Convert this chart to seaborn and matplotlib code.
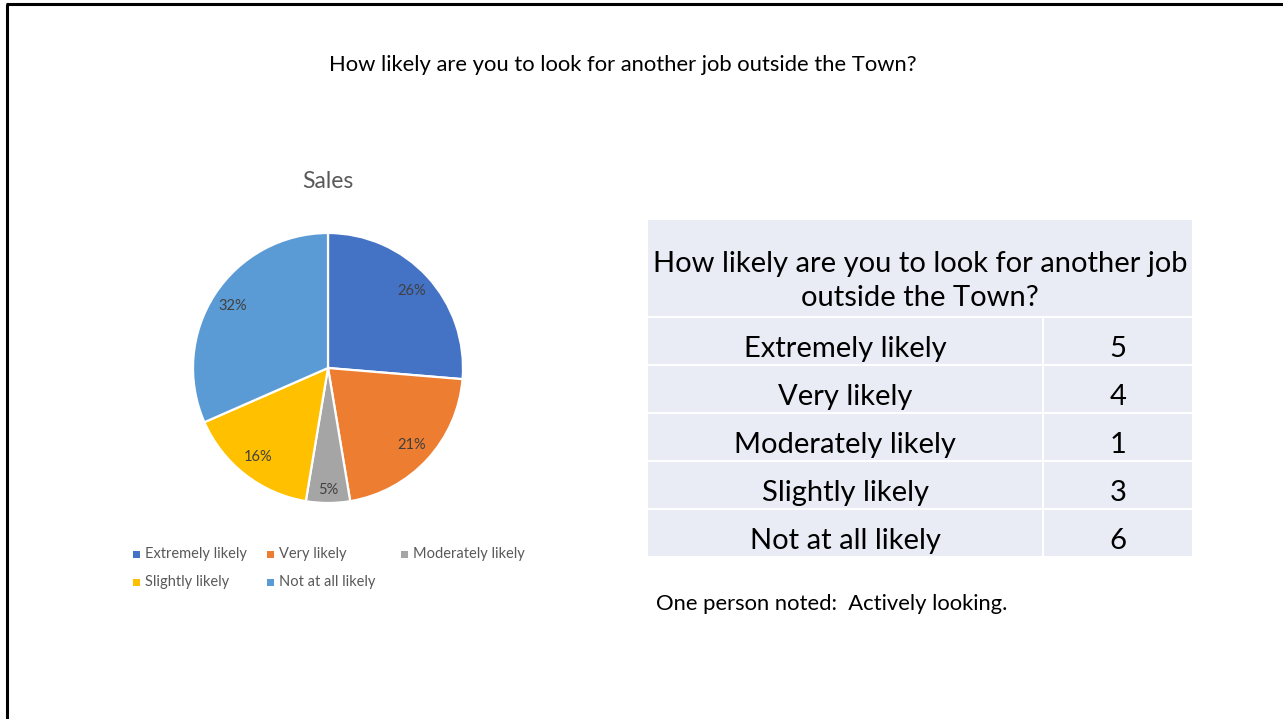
import matplotlib
matplotlib.use("Agg")
import matplotlib.pyplot as plt
from matplotlib.patches import Rectangle
from matplotlib.lines import Line2D
import seaborn as sns

# Survey responses
categories = ["Extremely likely", "Very likely", "Moderately likely",
              "Slightly likely", "Not at all likely"]
counts = [5, 4, 1, 3, 6]
colors = ["#4472C4", "#ED7D31", "#A5A5A5", "#FFC000", "#5B9BD5"]

page_title = "How likely are you to look for another job outside the Town?"
pie_title = "Sales"
table_header = "How likely are you to look for another job\noutside the Town?"
footnote = "One person noted:  Actively looking."

sns.set_theme(style="white")
plt.rcParams["font.family"] = ["Lato", "DejaVu Sans"]
palette = sns.color_palette(colors)

W, H = 1283, 719
fig = plt.figure(figsize=(W / 100, H / 100), dpi=100)
fig.patch.set_facecolor("white")


def fx(px):
    return px / W


def fy(py):
    return 1 - py / H


# Full-page overlay in pixel coordinates (text, table, frame)
page = fig.add_axes([0, 0, 1, 1])
page.set_xlim(0, W)
page.set_ylim(H, 0)
page.axis("off")

# Slide frame (left and top edges)
page.add_line(Line2D([7, 7], [4, H], color="black", lw=2.2, solid_capstyle="butt"))
page.add_line(Line2D([6, W], [4, 4], color="black", lw=2.2, solid_capstyle="butt"))

page.text(623, 65, page_title, ha="center", va="center", fontsize=15.8, color="black")

# Pie chart
cx, cy, r = 328, 368, 135
pad = 150
ax = fig.add_axes([fx(cx - pad), fy(cy + pad), fx(2 * pad), (2 * pad) / H])
wedges, texts, autotexts = ax.pie(
    counts, colors=palette, startangle=90, counterclock=False,
    autopct="%.0f%%", pctdistance=0.84,
    wedgeprops=dict(edgecolor="white", linewidth=1.6),
    textprops=dict(color="#404040", fontsize=10.5),
)
autotexts[2].set_position((0, -0.9))
lim = pad / r
ax.set_xlim(-lim, lim)
ax.set_ylim(-lim, lim)
ax.set_aspect("equal")
ax.axis("off")

page.text(cx, 182, pie_title, ha="center", va="center", fontsize=16.5, color="#595959")

# Legend laid out in a 3-column grid
for i, (name, col) in enumerate(zip(categories, palette)):
    c, row = i % 3, i // 3
    lx = 133 + c * 134
    ly = 554 + row * 28
    page.add_patch(Rectangle((lx, ly - 3.5), 7, 7, facecolor=col, edgecolor="none"))
    page.text(lx + 12, ly, name, ha="left", va="center", fontsize=10.5, color="#595959")

# Summary table
tbl_bg = "#E9EBF5"
x0, x1, xdiv = 647, 1193, 1043
hy0, hy1 = 219, 317
row_h = 48
page.add_patch(Rectangle((x0, hy0), x1 - x0, hy1 - hy0, facecolor=tbl_bg,
                         edgecolor="white", lw=1.5))
page.text((x0 + x1) / 2, 281, table_header, ha="center", va="center",
          fontsize=21, color="black", linespacing=1.4)
for i, (name, n) in enumerate(zip(categories, counts)):
    top = hy1 + i * row_h
    page.add_patch(Rectangle((x0, top), xdiv - x0, row_h, facecolor=tbl_bg,
                             edgecolor="white", lw=1.5))
    page.add_patch(Rectangle((xdiv, top), x1 - xdiv, row_h, facecolor=tbl_bg,
                             edgecolor="white", lw=1.5))
    page.text((x0 + xdiv) / 2, top + 32, name, ha="center", va="center",
              fontsize=21, color="black")
    page.text((xdiv + x1) / 2, top + 32, str(n), ha="center", va="center",
              fontsize=21, color="black")

page.text(656, 604, footnote, ha="left", va="center", fontsize=15.8, color="black")

fig.savefig("out.png", dpi=100, facecolor="white")
